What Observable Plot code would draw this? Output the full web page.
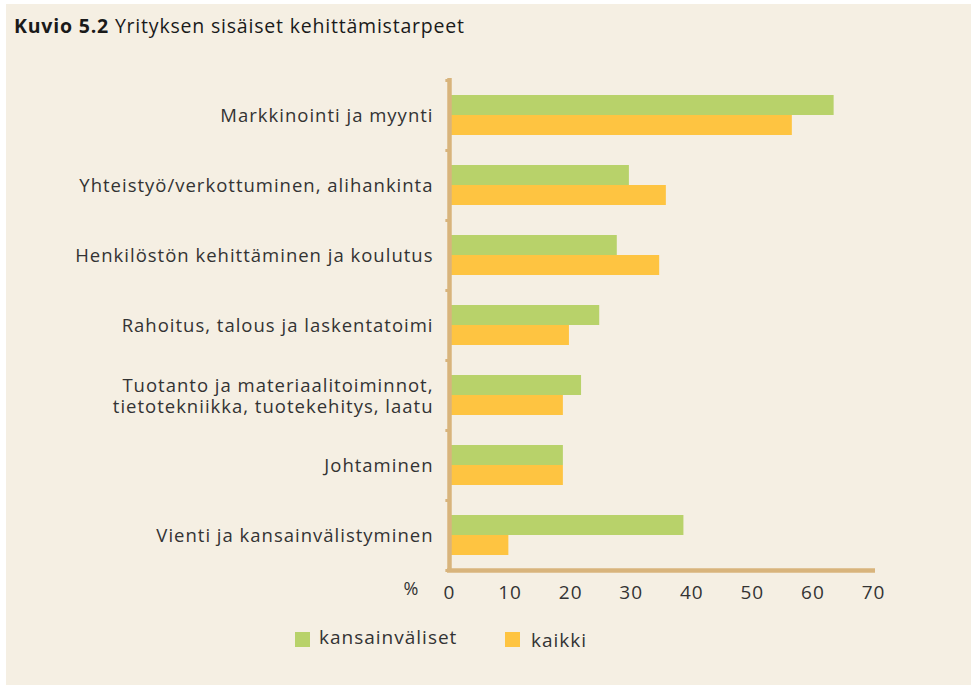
<!DOCTYPE html>
<html>
<head>
<meta charset="utf-8">
<script src="https://cdn.jsdelivr.net/npm/d3@7"></script>
<script src="https://cdn.jsdelivr.net/npm/@observablehq/plot@0.6"></script>
<style>
  html, body { margin: 0; padding: 0; background: #ffffff; }
  body { width: 971px; height: 685px; position: relative; overflow: hidden; font-family: "Open Sans", sans-serif; }
  #panel { position: absolute; left: 6px; top: 4px; width: 965px; height: 681px; background: #f5efe3; }
  #title { position: absolute; left: 8px; top: 8px; font-size: 19.5px; letter-spacing: 0.8px; color: #1a1a1a; white-space: nowrap; }
  #title b { font-weight: 700; }
  #chart { position: absolute; left: 0px; top: 36px; }
  #chart svg text { letter-spacing: 1px; }
  .leg { position: absolute; font-size: 19px; letter-spacing: 1px; color: #333; white-space: nowrap; }
  .sw { position: absolute; width: 15px; height: 15px; }
</style>
</head>
<body>
<div id="panel">
  <div id="title"><b>Kuvio 5.2</b> Yrityksen sisäiset kehittämistarpeet</div>
  <div id="chart"></div>
  <div class="sw" style="left:289px; top:628px; background:#b8d26a"></div>
  <div class="leg" style="left:313px; top:620px">kansainväliset</div>
  <div class="sw" style="left:499px; top:628px; background:#fec441"></div>
  <div class="leg" style="left:525px; top:623px">kaikki</div>
</div>
<script>
const categories = [
  "Markkinointi ja myynti",
  "Yhteistyö/verkottuminen, alihankinta",
  "Henkilöstön kehittäminen ja koulutus",
  "Rahoitus, talous ja laskentatoimi",
  "Tuotanto ja materiaalitoiminnot, tietotekniikka, tuotekehitys, laatu",
  "Johtaminen",
  "Vienti ja kansainvälistyminen"
];
const categoryLabels = [
  "Markkinointi ja myynti",
  "Yhteistyö/verkottuminen, alihankinta",
  "Henkilöstön kehittäminen ja koulutus",
  "Rahoitus, talous ja laskentatoimi",
  "Tuotanto ja materiaalitoiminnot,\ntietotekniikka, tuotekehitys, laatu",
  "Johtaminen",
  "Vienti ja kansainvälistyminen"
];
const series = ["kansainväliset", "kaikki"];
const kansainvaliset = [63.5, 29.7, 27.7, 24.8, 21.8, 18.8, 38.7];
const kaikki = [56.6, 35.8, 34.7, 19.8, 18.8, 18.8, 9.8];
const xTicks = [0, 10, 20, 30, 40, 50, 60, 70];

const colors = {"kansainväliset": "#b8d26a", "kaikki": "#fec441"};
const axisColor = "#d8b47c";

const dataK = categories.map((c, i) => ({category: c, value: kansainvaliset[i]}));
const dataA = categories.map((c, i) => ({category: c, value: kaikki[i]}));
const labelOf = new Map(categories.map((c, i) => [c, categoryLabels[i]]));
const lastCat = categories[categories.length - 1];

const chart = Plot.plot({
  width: 960,
  height: 574,
  marginLeft: 443,
  marginRight: 93,
  marginTop: 40,
  marginBottom: 44,
  style: {background: "transparent", fontFamily: "Open Sans, sans-serif", overflow: "visible"},
  x: {domain: [0, 70], ticks: xTicks},
  y: {domain: categories, padding: 0},
  marks: [
    Plot.barX(dataK, {y: "category", x: "value", fill: colors["kansainväliset"], insetTop: 15, insetBottom: 35}),
    Plot.barX(dataA, {y: "category", x: "value", fill: colors["kaikki"], insetTop: 35, insetBottom: 15}),
    // boundary stubs on the y axis (top of each band, plus bottom)
    Plot.ruleY(categories, {y: d => d, x1: -0.6, x2: 0, dy: -35, stroke: axisColor, strokeWidth: 3}),
    Plot.ruleY([lastCat], {y: d => d, x1: -0.6, x2: 0, dy: 35, stroke: axisColor, strokeWidth: 3}),
    // x axis tick stubs below the baseline
    Plot.tickX(xTicks, {x: d => d, y: lastCat, insetTop: 70, insetBottom: -5, stroke: axisColor, strokeWidth: 3}),
    // axis lines
    Plot.ruleX([0], {stroke: axisColor, strokeWidth: 4.5, insetTop: -2, insetBottom: -2}),
    Plot.ruleY([lastCat], {y: d => d, x1: 0, x2: 70, dy: 35, stroke: axisColor, strokeWidth: 4.5, insetLeft: -2, insetRight: -2}),
    Plot.axisY({tickSize: 0, tickFormat: d => labelOf.get(d), tickPadding: 16, fontSize: 18.5, fill: "#333", label: null, lineHeight: 1.15}),
    Plot.axisX({ticks: xTicks, tickSize: 0, tickPadding: 15, fontSize: 19, fill: "#333", label: null}),
    Plot.text(["%"], {x: 0, frameAnchor: "bottom", dx: -38, dy: 24, fontSize: 18, fill: "#333"})
  ]
});

document.getElementById("chart").appendChild(chart);
</script>
</body>
</html>
